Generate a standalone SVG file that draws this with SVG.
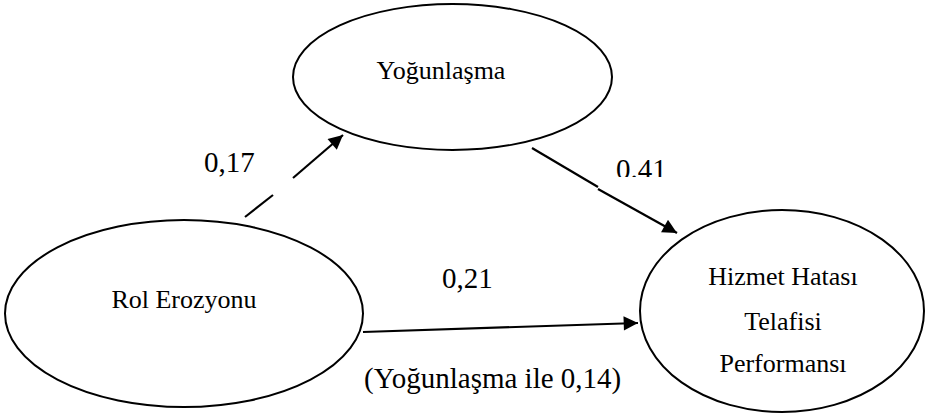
<svg xmlns="http://www.w3.org/2000/svg" width="925" height="413" viewBox="0 0 925 413">
  <style>
    .node { fill: #fff; stroke: #000; stroke-width: 2; }
    .lbl { font-family: 'Liberation Serif', 'Times New Roman', Times, serif; font-size: 26px; fill: #000; text-anchor: middle; }
    .elbl { font-family: 'Liberation Serif', 'Times New Roman', Times, serif; font-size: 29px; fill: #000; }
    .edge { stroke: #000; stroke-width: 2.2; fill: none; }
  </style>
  <defs>
    <marker id="arrow" viewBox="0 0 10 10" refX="10" refY="5" markerWidth="7.5" markerHeight="6.5" markerUnits="strokeWidth" orient="auto">
      <path d="M0,0 L10,5 L0,10 z" fill="#000"/>
    </marker>
    <clipPath id="clip041">
      <rect x="600" y="150" width="80" height="27"/>
    </clipPath>
  </defs>

  <g id="node-yogunlasma">
    <ellipse class="node" cx="452.5" cy="77" rx="159.5" ry="73"/>
    <text class="lbl" x="441" y="79">Yoğunlaşma</text>
  </g>

  <g id="node-rol-erozyonu">
    <ellipse class="node" cx="184" cy="313.5" rx="179" ry="93.5"/>
    <text class="lbl" x="184" y="308">Rol Erozyonu</text>
  </g>

  <g id="node-hizmet">
    <ellipse class="node" cx="782" cy="311" rx="142" ry="101"/>
    <text class="lbl" x="783" y="285">Hizmet Hatası</text>
    <text class="lbl" x="783" y="330">Telafisi</text>
    <text class="lbl" x="783" y="372">Performansı</text>
  </g>

  <g id="connectors">
    <line class="edge" x1="245" y1="217" x2="273" y2="195"/>
    <line class="edge" x1="293" y1="178" x2="343" y2="135" marker-end="url(#arrow)"/>
    <line class="edge" x1="532" y1="148" x2="598" y2="187"/>
    <line class="edge" x1="598" y1="189" x2="677" y2="233" marker-end="url(#arrow)"/>
    <line class="edge" x1="363" y1="332" x2="638" y2="323" marker-end="url(#arrow)"/>
  </g>

  <g id="labels">
    <text class="elbl" x="204" y="172">0,17</text>
    <text class="elbl" x="616" y="179" clip-path="url(#clip041)">0.41</text>
    <text class="elbl" x="442" y="288">0,21</text>
    <text class="elbl" x="364" y="388">(Yoğunlaşma ile 0,14)</text>
  </g>
</svg>
